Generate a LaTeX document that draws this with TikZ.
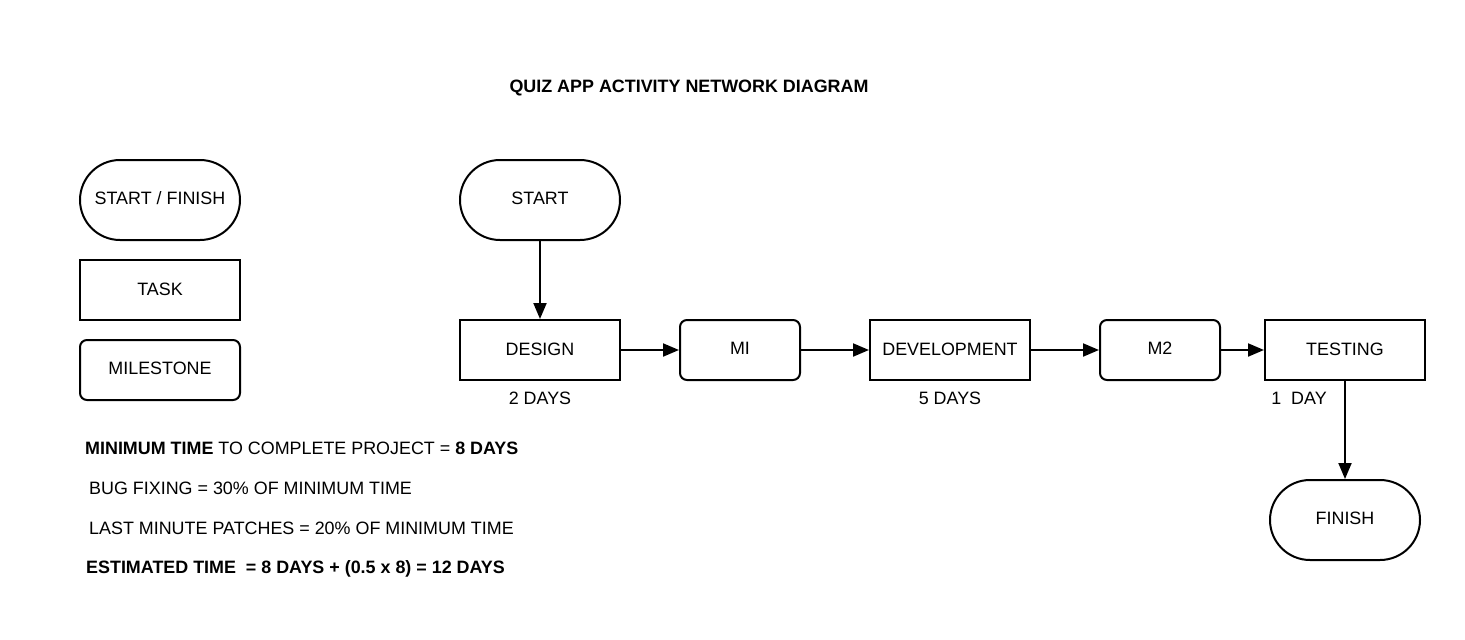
\documentclass[tikz,border=0pt]{standalone}
\usepackage{fontspec}
\setmainfont{Liberation Sans}
\usetikzlibrary{arrows.meta}
\begin{document}
\begin{tikzpicture}[x=1pt,y=-1pt,
  every node/.style={font=\fontsize{17.9}{20}\selectfont, inner sep=0pt},
  terminal/.style={draw, line width=2pt, rounded corners=40pt, minimum width=160pt, minimum height=80pt, text depth=4pt},
  taskbox/.style={draw, line width=2pt, minimum width=160pt, minimum height=60pt, text depth=1pt},
  milebox/.style={draw, line width=2pt, rounded corners=7pt, minimum width=120pt, minimum height=60pt, text depth=4pt},
  conn/.style={line width=2pt, -{Triangle[length=16pt,width=13pt]}},
  lbl/.style={anchor=center},
  note/.style={anchor=west}]
\useasboundingbox (0,0) rectangle (1465,640);
\fill[white] (0,0) rectangle (1465,640);

% title
\node[lbl] (title) at (689,88.5) {\bfseries QUIZ APP ACTIVITY NETWORK DIAGRAM};

% legend
\node[terminal] (lgterm) at (160,200) {START / FINISH};
\node[taskbox] (lgtask) at (160,290) {TASK};
\node[milebox, minimum width=160pt] (lgmile) at (160,370) {MILESTONE};

% network
\node[terminal] (start) at (540,200) {START};
\node[taskbox] (design) at (540,350) {DESIGN};
\node[milebox] (m1) at (740,350) {MI};
\node[taskbox] (dev) at (950,350) {DEVELOPMENT};
\node[milebox] (m2) at (1160,350) {M2};
\node[taskbox] (test) at (1345,350) {TESTING};
\node[terminal, minimum width=150pt] (finish) at (1345,520) {FINISH};

\draw[conn] (start) -- (design);
\draw[conn] (design) -- (m1);
\draw[conn] (m1) -- (dev);
\draw[conn] (dev) -- (m2);
\draw[conn] (m2) -- (test);
\draw[conn] (test) -- (finish);

% durations
\node[lbl] (d1) at (540,398) {2 DAYS};
\node[lbl] (d2) at (950,398) {5 DAYS};
\node[lbl] (d3) at (1299,398) {1\ \ DAY};

% notes
\node[note] (n1) at (85,448.5) {\bfseries MINIMUM TIME \mdseries TO COMPLETE PROJECT = \bfseries 8 DAYS};
\node[note] (n2) at (89,488.5) {BUG FIXING = 30\% OF MINIMUM TIME};
\node[note] (n3) at (89,528.5) {LAST MINUTE PATCHES = 20\% OF MINIMUM TIME};
\node[note] (n4) at (86,568.5) {\bfseries ESTIMATED TIME\ \ = 8 DAYS + (0.5 x 8) = 12 DAYS};
\end{tikzpicture}
\end{document}
